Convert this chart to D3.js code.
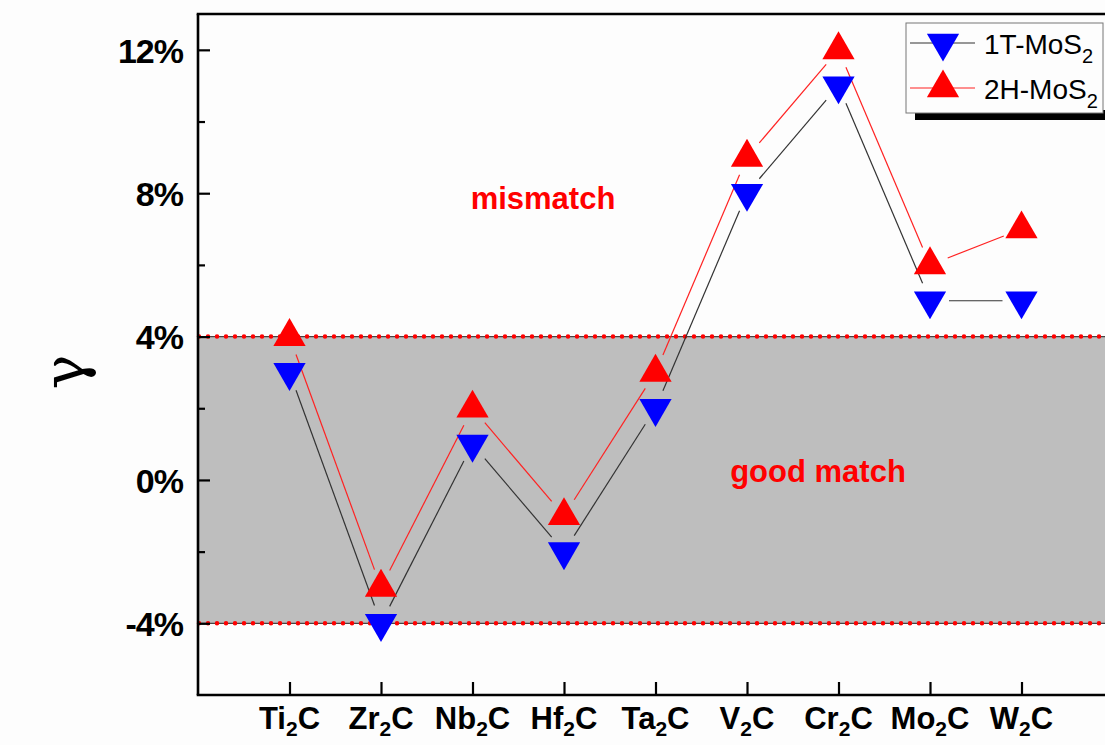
<!DOCTYPE html>
<html><head><meta charset="utf-8">
<script src="https://cdn.jsdelivr.net/npm/d3@7"></script>
<style>html,body{margin:0;padding:0;background:#fdfdfd;}svg{display:block;}</style>
</head><body>
<svg id="chart" width="1105" height="745"></svg>
<script>
const categories = ["Ti2C","Zr2C","Nb2C","Hf2C","Ta2C","V2C","Cr2C","Mo2C","W2C"];
const series1T = [3, -4, 1, -2, 2, 8, 11, 5, 5];
const series2H = [4, -3, 2, -1, 3, 9, 12, 6, 7];
const seriesNames = ["1T-MoS", "2H-MoS"];
const yMajorTicks = [-4, 0, 4, 8, 12];
const yMinorTicks = [-2, 2, 6, 10];
const bandLimits = [-4, 4];

const svg = d3.select("#chart");
const L = 198, T = 14, B = 695, R = 1113;
const x = d3.scaleLinear().domain([0, 10]).range([L, R]);
const y = d3.scaleLinear().domain([-6, 13]).range([B, T]);

// grey band
svg.append("rect").attr("x", L).attr("y", y(bandLimits[1]))
  .attr("width", 1105 - L).attr("height", y(bandLimits[0]) - y(bandLimits[1]))
  .attr("fill", "#bebebe");

// dotted red limit lines
bandLimits.forEach(v => {
  svg.append("line").attr("x1", L).attr("x2", 1105).attr("y1", y(v)).attr("y2", y(v))
    .attr("stroke", "#444").attr("stroke-width", 1.2);
  svg.append("line").attr("x1", L + 1).attr("x2", 1105).attr("y1", y(v)).attr("y2", y(v))
    .attr("stroke", "#f00").attr("stroke-width", 4.5).attr("stroke-linecap", "round")
    .attr("stroke-dasharray", "0 9");
});

// series lines with gaps near markers
function gapLines(vals, color) {
  const g = svg.append("g");
  const gap = 19;
  for (let i = 0; i < vals.length - 1; i++) {
    const x1 = x(i + 1), y1 = y(vals[i]), x2 = x(i + 2), y2 = y(vals[i + 1]);
    const dx = x2 - x1, dy = y2 - y1, len = Math.hypot(dx, dy);
    const ux = dx / len, uy = dy / len;
    g.append("line").attr("x1", x1 + ux * gap).attr("y1", y1 + uy * gap)
      .attr("x2", x2 - ux * gap).attr("y2", y2 - uy * gap)
      .attr("stroke", color).attr("stroke-width", 1.2);
  }
}
gapLines(series1T, "#333");
gapLines(series2H, "#f22");

const tri = d3.symbol().type(d3.symbolTriangle).size(450);
function markers(vals, color, rot) {
  svg.append("g").selectAll("path").data(vals).join("path")
    .attr("d", tri)
    .attr("transform", (d, i) => `translate(${x(i + 1)},${y(d)}) rotate(${rot})`)
    .attr("fill", color);
}
markers(series1T, "#0000ff", 180);
markers(series2H, "#ff0000", 0);

// axes
const font = "'Liberation Sans', Arial, sans-serif";
const yAxis = svg.append("g").attr("transform", `translate(${L},0)`)
  .call(d3.axisLeft(y).tickValues(yMajorTicks).tickSize(-12).tickPadding(15)
    .tickFormat(d => d + "%"));
yAxis.select(".domain").remove();
yAxis.selectAll("line").attr("stroke", "#000").attr("stroke-width", 2.2);
yAxis.selectAll("text").attr("font-family", font).attr("font-weight", "bold")
  .attr("font-size", 34).attr("fill", "#000").attr("dy", "0.36em").attr("letter-spacing", -1);
const yMinor = svg.append("g").attr("transform", `translate(${L},0)`)
  .call(d3.axisLeft(y).tickValues(yMinorTicks).tickSize(-7).tickFormat(""));
yMinor.select(".domain").remove();
yMinor.selectAll("line").attr("stroke", "#000").attr("stroke-width", 2.2);

const xAxis = svg.append("g").attr("transform", `translate(0,${B})`)
  .call(d3.axisBottom(x).tickValues(d3.range(1, categories.length + 1)).tickSize(-13).tickFormat(""));
xAxis.select(".domain").remove();
xAxis.selectAll("line").attr("stroke", "#000").attr("stroke-width", 2.2);

// category labels with subscripts
categories.forEach((c, i) => {
  const m = c.match(/^(\D+)(\d)(\D+)$/);
  const t = svg.append("text").attr("x", x(i + 1)).attr("y", 729)
    .attr("text-anchor", "middle").attr("font-family", font).attr("font-weight", "bold")
    .attr("font-size", 31).attr("fill", "#000");
  t.append("tspan").text(m[1]);
  t.append("tspan").attr("font-size", 21).attr("dy", 7).text(m[2]);
  t.append("tspan").attr("dy", -7).text(m[3]);
});

// frame lines
svg.append("line").attr("x1", L).attr("x2", L).attr("y1", T).attr("y2", B)
  .attr("stroke", "#000").attr("stroke-width", 2.6);
svg.append("line").attr("x1", L - 1.3).attr("x2", 1105).attr("y1", B).attr("y2", B)
  .attr("stroke", "#000").attr("stroke-width", 2.6);
svg.append("line").attr("x1", L - 1.3).attr("x2", 1105).attr("y1", T).attr("y2", T)
  .attr("stroke", "#000").attr("stroke-width", 2.6);

// annotations
svg.append("text").attr("x", 543).attr("y", 209).attr("text-anchor", "middle")
  .attr("font-family", font).attr("font-weight", "bold").attr("font-size", 31)
  .attr("fill", "#f00").text("mismatch");
svg.append("text").attr("x", 818).attr("y", 482).attr("text-anchor", "middle")
  .attr("font-family", font).attr("font-weight", "bold").attr("font-size", 31)
  .attr("fill", "#f00").text("good match");

// y label
svg.append("text").attr("transform", "translate(84,372) rotate(-90)")
  .attr("text-anchor", "middle").attr("font-family", "'DejaVu Serif', 'Liberation Serif', serif")
  .attr("font-size", 58).attr("fill", "#000").text("γ");

// legend
const lg = svg.append("g");
lg.append("rect").attr("x", 915).attr("y", 110).attr("width", 195).attr("height", 10).attr("fill", "#000");
lg.append("rect").attr("x", 906).attr("y", 23).attr("width", 197).attr("height", 90)
  .attr("fill", "#fdfdfd").attr("stroke", "#777").attr("stroke-width", 1);
const legendRows = [
  {name: seriesNames[0], color: "#0000ff", line: "#333", rot: 180, yy: 43},
  {name: seriesNames[1], color: "#ff0000", line: "#f22", rot: 0, yy: 88}
];
legendRows.forEach(r => {
  lg.append("line").attr("x1", 910).attr("x2", 975).attr("y1", r.yy).attr("y2", r.yy)
    .attr("stroke", r.line).attr("stroke-width", 1.2);
  lg.append("path").attr("d", tri).attr("transform", `translate(943,${r.yy}) rotate(${r.rot})`)
    .attr("fill", r.color);
  const t = lg.append("text").attr("x", 984).attr("y", r.yy + 11)
    .attr("font-family", font).attr("font-size", 28).attr("fill", "#000");
  t.append("tspan").text(r.name);
  t.append("tspan").attr("font-size", 20).attr("dy", 9).text("2");
});
</script>
</body></html>
